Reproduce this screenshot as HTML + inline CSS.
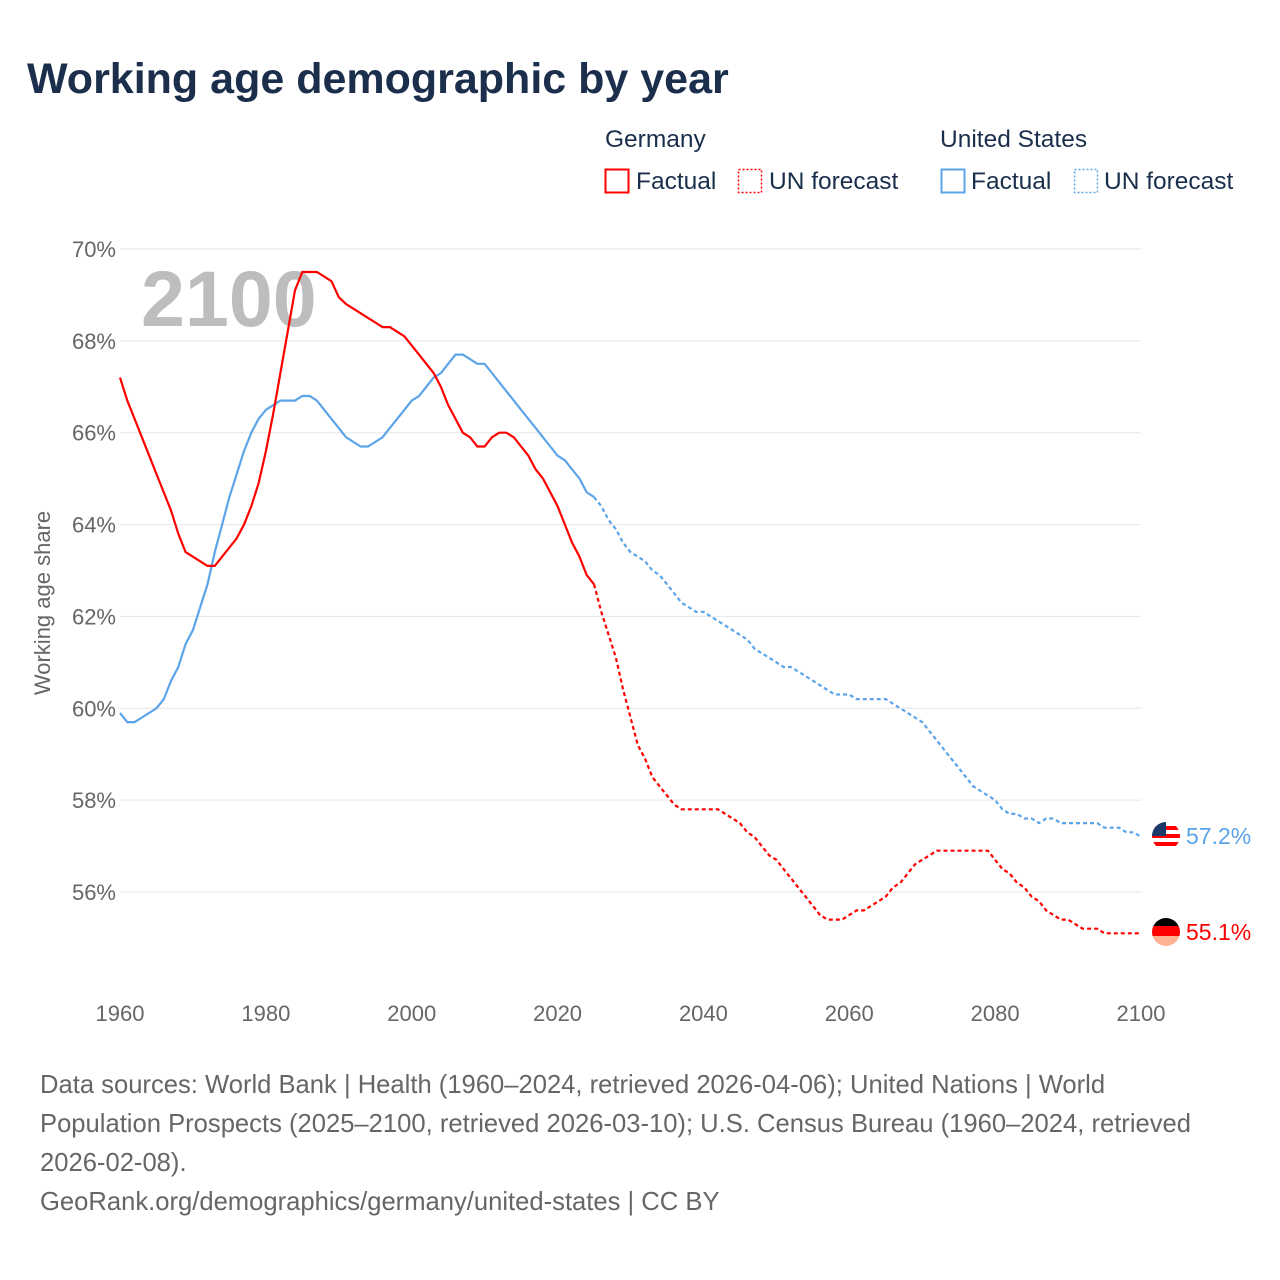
<!DOCTYPE html>
<html><head><meta charset="utf-8"><style>
html,body{margin:0;padding:0;background:#fff}
svg{display:block;font-family:"Liberation Sans",sans-serif}
</style></head><body>
<svg id="c" width="1280" height="1280" viewBox="0 0 1280 1280">
<text x="27" y="93" font-size="43" font-weight="bold" fill="#1b2f4d">Working age demographic by year</text>
<g font-size="24.5" fill="#1b2f4d">
<text x="605" y="147">Germany</text>
<text x="940" y="147">United States</text>
<g><rect x="605.5" y="169.5" width="23" height="23" fill="none" stroke="#f00" stroke-width="2"/><text x="636" y="189">Factual</text></g>
<g><rect x="738.5" y="169.5" width="23" height="23" fill="none" stroke="#f00" stroke-width="1.5" stroke-dasharray="2,2"/><text x="769" y="189">UN forecast</text></g>
<g><rect x="941.5" y="169.5" width="23" height="23" fill="none" stroke="#5ca4e9" stroke-width="2"/><text x="971" y="189">Factual</text></g>
<g><rect x="1074.5" y="169.5" width="23" height="23" fill="none" stroke="#5ca4e9" stroke-width="1.5" stroke-dasharray="2,2"/><text x="1104" y="189">UN forecast</text></g>
</g>
<g id="grid"></g>
<g id="yt" font-size="22" fill="#666" text-anchor="end"></g>
<g id="xt" font-size="22" fill="#666" text-anchor="middle"></g>
<text x="0" y="0" transform="translate(50,603) rotate(-90)" font-size="22" fill="#666" text-anchor="middle">Working age share</text>
<text x="141" y="326" font-size="79" font-weight="bold" fill="#bdbdbd">2100</text>
<g id="lines"></g>
<g>
<g>
<clipPath id="cu"><circle cx="1166" cy="836" r="14"/></clipPath>
<g clip-path="url(#cu)"><rect x="1150" y="820" width="32" height="32" fill="#fff"/><rect x="1150" y="826" width="32" height="4" fill="#f00"/><rect x="1150" y="834" width="32" height="4" fill="#f00"/><rect x="1150" y="842" width="32" height="4" fill="#f00"/><rect x="1150" y="820" width="16" height="16" fill="#1b3a6b"/></g></g>
<text id="usl" x="1186" y="844" font-size="23" fill="#5ca4e9">57.2%</text>
<g>
<clipPath id="cg"><circle cx="1166" cy="932" r="14"/></clipPath>
<g clip-path="url(#cg)"><rect x="1150" y="916" width="32" height="10" fill="#000"/><rect x="1150" y="926" width="32" height="10" fill="#f00"/><rect x="1150" y="936" width="32" height="12" fill="#ffb394"/></g></g>
<text id="del" x="1186" y="940" font-size="23" fill="#f00">55.1%</text>
</g>
<g font-size="25.6" fill="#666">
<text x="40" y="1093">Data sources: World Bank | Health (1960–2024, retrieved 2026-04-06); United Nations | World</text>
<text x="40" y="1132">Population Prospects (2025–2100, retrieved 2026-03-10); U.S. Census Bureau (1960–2024, retrieved</text>
<text x="40" y="1171">2026-02-08).</text>
<text x="40" y="1210">GeoRank.org/demographics/germany/united-states | CC BY</text>
</g>
</svg>
<script>
const startYear = 1960;
const forecastStart = 2025;
const yTicks = [56, 58, 60, 62, 64, 66, 68, 70];
const xTicks = [1960, 1980, 2000, 2020, 2040, 2060, 2080, 2100];
const germany = [67.2,66.7,66.3,65.9,65.5,65.1,64.7,64.3,63.8,63.4,63.3,63.2,63.1,63.1,63.3,63.5,63.7,64.0,64.4,64.9,65.6,66.4,67.3,68.2,69.1,69.5,69.5,69.5,69.4,69.3,68.95,68.8,68.7,68.6,68.5,68.4,68.3,68.3,68.2,68.1,67.9,67.7,67.5,67.3,67.0,66.6,66.3,66.0,65.9,65.7,65.7,65.9,66.0,66.0,65.9,65.7,65.5,65.2,65.0,64.7,64.4,64.0,63.6,63.3,62.9,62.7,
62.1,61.6,61.1,60.4,59.8,59.2,58.9,58.5,58.3,58.1,57.9,57.8,57.8,57.8,57.8,57.8,57.8,57.7,57.6,57.5,57.3,57.2,57.0,56.8,56.7,56.5,56.3,56.1,55.9,55.7,55.5,55.4,55.4,55.4,55.5,55.6,55.6,55.7,55.8,55.9,56.1,56.2,56.4,56.6,56.7,56.8,56.9,56.9,56.9,56.9,56.9,56.9,56.9,56.9,56.7,56.5,56.4,56.2,56.1,55.9,55.8,55.6,55.5,55.4,55.4,55.3,55.2,55.2,55.2,55.1,55.1,55.1,55.1,55.1,55.1];
const unitedStates = [59.9,59.7,59.7,59.8,59.9,60.0,60.2,60.6,60.9,61.4,61.7,62.2,62.7,63.4,64.0,64.6,65.1,65.6,66.0,66.3,66.5,66.6,66.7,66.7,66.7,66.8,66.8,66.7,66.5,66.3,66.1,65.9,65.8,65.7,65.7,65.8,65.9,66.1,66.3,66.5,66.7,66.8,67.0,67.2,67.3,67.5,67.7,67.7,67.6,67.5,67.5,67.3,67.1,66.9,66.7,66.5,66.3,66.1,65.9,65.7,65.5,65.4,65.2,65.0,64.7,64.6,
64.4,64.1,63.9,63.6,63.4,63.3,63.2,63.0,62.9,62.7,62.5,62.3,62.2,62.1,62.1,62.0,61.9,61.8,61.7,61.6,61.5,61.3,61.2,61.1,61.0,60.9,60.9,60.8,60.7,60.6,60.5,60.4,60.3,60.3,60.3,60.2,60.2,60.2,60.2,60.2,60.1,60.0,59.9,59.8,59.7,59.5,59.3,59.1,58.9,58.7,58.5,58.3,58.2,58.1,58.0,57.8,57.7,57.7,57.6,57.6,57.5,57.6,57.6,57.5,57.5,57.5,57.5,57.5,57.5,57.4,57.4,57.4,57.3,57.3,57.2];

const NS = 'http://www.w3.org/2000/svg';
const x = yr => 120 + (yr - 1960) * (1141 - 120) / 140;
const y = v => 249 + (70 - v) * (892 - 249) / 14;
const grid = document.getElementById('grid'), yt = document.getElementById('yt'), xt = document.getElementById('xt'), lines = document.getElementById('lines');
yTicks.forEach(t => {
  const l = document.createElementNS(NS, 'line');
  
  
  l.setAttribute('x1', 120); l.setAttribute('x2', 1141);
  l.setAttribute('y1', y(t)); l.setAttribute('y2', y(t));
  l.setAttribute('stroke', '#e6e6e6'); l.setAttribute('stroke-width', 1);
  grid.appendChild(l);
  const tx = document.createElementNS(NS, 'text');
  
  
  tx.setAttribute('x', 116); tx.setAttribute('y', y(t) + 8);
  tx.textContent = t + '%';
  yt.appendChild(tx);
});
xTicks.forEach(t => {
  const tx = document.createElementNS(NS, 'text');
  
  
  tx.setAttribute('x', x(t)); tx.setAttribute('y', 1021);
  tx.textContent = t;
  xt.appendChild(tx);
});
function draw(vals, color, name) {
  const split = forecastStart - startYear;
  const pts = vals.map((v, i) => x(startYear + i).toFixed(1) + ',' + y(v).toFixed(1));
  const a = document.createElementNS(NS, 'polyline');
  
  
  a.setAttribute('points', pts.slice(0, split + 1).join(' '));
  a.setAttribute('fill', 'none'); a.setAttribute('stroke', color); a.setAttribute('stroke-width', 2.2);
  lines.appendChild(a);
  const b = document.createElementNS(NS, 'polyline');
  
  
  b.setAttribute('points', pts.slice(split).join(' '));
  b.setAttribute('fill', 'none'); b.setAttribute('stroke', color); b.setAttribute('stroke-width', 2.2); b.setAttribute('stroke-dasharray', '4,3');
  lines.appendChild(b);
}
draw(unitedStates, '#5ca4e9', 'united-states');
draw(germany, '#f00', 'germany');
const usLast = unitedStates[unitedStates.length - 1], deLast = germany[germany.length - 1];
document.getElementById('usl').textContent = usLast.toFixed(1) + '%';
document.getElementById('del').textContent = deLast.toFixed(1) + '%';
</script>
</body></html>
